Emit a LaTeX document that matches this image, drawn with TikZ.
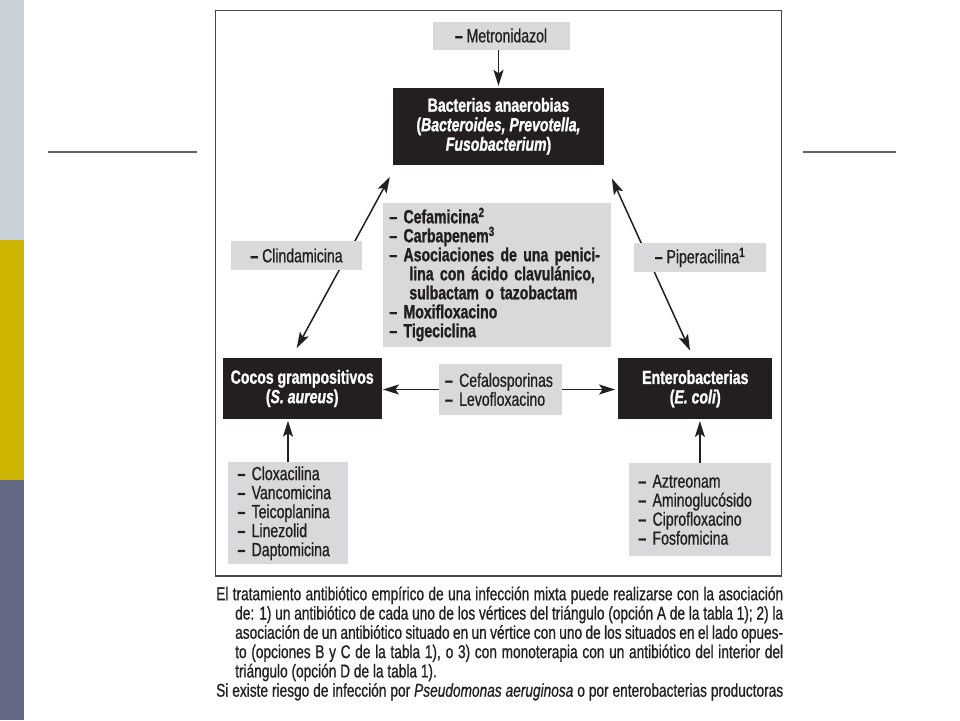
\documentclass[tikz,border=0pt]{standalone}
\usepackage{fontspec}
\setmainfont{Liberation Sans}[FakeStretch=0.74,
  UprightFeatures={FakeBold=0.7}, ItalicFeatures={FakeBold=0.7},
  BoldFeatures={FakeBold=1.2}, BoldItalicFeatures={FakeBold=1.2}]
\usetikzlibrary{arrows.meta,calc}
\definecolor{barA}{RGB}{200,209,216}
\definecolor{barB}{RGB}{205,181,0}
\definecolor{barC}{RGB}{99,104,132}
\definecolor{rulec}{RGB}{94,100,112}
\definecolor{boxgray}{RGB}{217,217,219}
\definecolor{boxblack}{RGB}{35,31,32}
\definecolor{txt}{RGB}{35,31,32}
\definecolor{framec}{RGB}{70,70,70}
\newcommand{\dsh}{{\bfseries –}}
\begin{document}
\begin{tikzpicture}[x=1pt,y=-1pt,
  gbox/.style={fill=boxgray, draw=none, inner sep=0pt, text=txt, font=\fontsize{19}{19}\selectfont},
  kbox/.style={fill=boxblack, draw=none, inner sep=0pt, text=white, align=center, font=\fontsize{19}{19.5}\selectfont\bfseries},
  arr/.style={-{Stealth[length=16pt,width=10pt,inset=3.5pt]}, line width=1.5pt, draw=txt},
  dbl/.style={{Stealth[length=16pt,width=10pt,inset=3.5pt]}-{Stealth[length=16pt,width=10pt,inset=3.5pt]}, line width=1.5pt, draw=txt},
  capt/.style={inner sep=0pt, text=txt, align=left, font=\fontsize{18.5}{19.3}\selectfont}]
\useasboundingbox (0,0) rectangle (960,720);
\fill[white] (0,0) rectangle (960,720);
% side bar
\fill[barA] (0,0) rectangle (24,240);
\fill[barB] (0,240) rectangle (24,480);
\fill[barC] (0,480) rectangle (24,720);
% title rules
\draw[rulec, line width=2pt] (48,151.5) -- (197,151.5);
\draw[rulec, line width=2pt] (803,151.5) -- (896,151.5);
% frame
\draw[framec, line width=1.3pt] (215.5,10.5) rectangle (781.5,576);
% nodes
\node[gbox, minimum width=137pt, minimum height=28pt, align=center] (metro) at (501,35.5) {\dsh{} Metronidazol};
\node[kbox, minimum width=211pt, minimum height=76.5pt] (bact) at (498.5,126.3)
  {Bacterias anaerobias\\(\textit{Bacteroides, Prevotella,}\\\textit{Fusobacterium})};
\node[gbox, text width=216pt, inner xsep=6pt, minimum height=144pt, align=left, font=\fontsize{19}{19}\selectfont\bfseries] (mid) at (497.4,274.5)
  {– Cefamicina\textsuperscript{2}\\
   – Carbapenem\textsuperscript{3}\\
   – Asociaciones de una penici-\\
   \hspace*{20pt}lina con ácido clavulánico,\\
   \hspace*{20pt}sulbactam o tazobactam\\
   – Moxifloxacino\\
   – Tigeciclina};
\node[kbox, minimum width=159pt, minimum height=61pt] (cocos) at (302.2,388.5)
  {Cocos grampositivos\\(\textit{S. aureus})};
\node[kbox, minimum width=154pt, minimum height=61pt] (entero) at (695.3,388.8)
  {Enterobacterias\\(\textit{E. coli})};
\node[gbox, text width=111pt, inner xsep=5.7pt, minimum height=51pt, align=left] (cefa) at (500.5,389.5)
  {\dsh{} Cefalosporinas\\\dsh{} Levofloxacino};
\node[gbox, text width=101pt, inner xsep=9.2pt, minimum height=101.7pt, align=left] (clox) at (288,513.2)
  {\dsh{} Cloxacilina\\\dsh{} Vancomicina\\\dsh{} Teicoplanina\\\dsh{} Linezolid\\\dsh{} Daptomicina};
\node[gbox, text width=123pt, inner xsep=9.3pt, minimum height=92.7pt, align=left] (azt) at (699.9,509.7)
  {\dsh{} Aztreonam\\\dsh{} Aminoglucósido\\\dsh{} Ciprofloxacino\\\dsh{} Fosfomicina};
% connectors
\draw[arr, shorten >=2pt] (metro.south -| bact.north) -- (bact.north);
\draw[dbl] ($(cocos.north)+(-5.5,-9.7)$) -- ($(bact.south west)+(-3,12.2)$);
\draw[dbl] ($(bact.south east)+(7.7,13.8)$) -- ($(entero.north)+(-5.3,-7.6)$);
\draw[arr, shorten >=1pt] (cefa.west) -- (cefa.west -| cocos.east);
\draw[arr, shorten >=3pt] (cefa.east) -- (cefa.east -| entero.west);
\draw[arr, shorten >=1.5pt] (clox.north) -- (clox.north |- cocos.south);
\draw[arr, shorten >=1.5pt] (azt.north) -- (azt.north |- entero.south);
% side labels over the diagonals
\node[gbox, minimum width=131pt, minimum height=29pt, align=center] (clinda) at (296.5,255.5) {\dsh{} Clindamicina};
\node[gbox, minimum width=131.4pt, minimum height=28.4pt, align=center] (piper) at (700,257.5) {\dsh{} Piperacilina{\bfseries\textsuperscript{1}}};
% caption
\node[capt, anchor=north west] (cap) at (216,586) {%
\rule{0pt}{14pt}\makebox[567pt][s]{El tratamiento antibiótico empírico de una infección mixta puede realizarse con la asociación}\\
\hspace*{19pt}\makebox[548pt][s]{de: 1) un antibiótico de cada uno de los vértices del triángulo (opción A de la tabla 1); 2) la}\\
\hspace*{19pt}\makebox[548pt][s]{asociación de un antibiótico situado en un vértice con uno de los situados en el lado opues-}\\
\hspace*{19pt}\makebox[548pt][s]{to (opciones B y C de la tabla 1), o 3) con monoterapia con un antibiótico del interior del}\\
\hspace*{19pt}triángulo (opción D de la tabla 1).\\
\makebox[567pt][s]{Si existe riesgo de infección por \textit{Pseudomonas aeruginosa} o por enterobacterias productoras}};
\end{tikzpicture}
\end{document}
